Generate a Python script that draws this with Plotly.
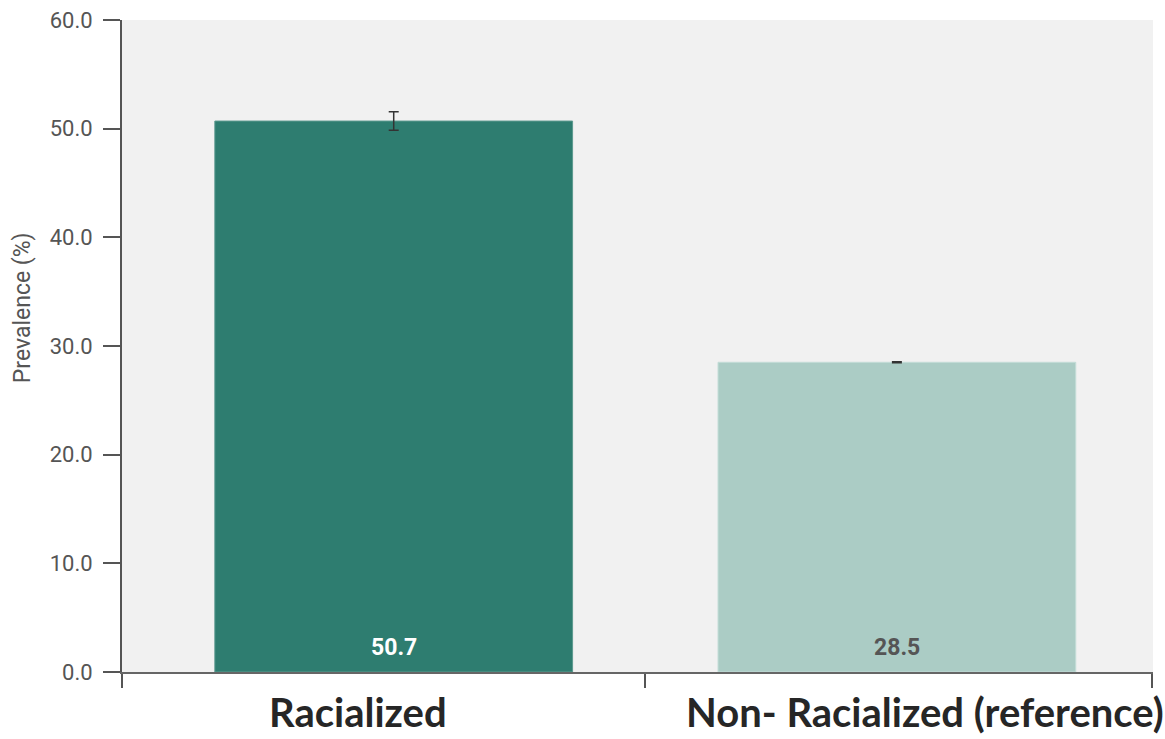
import plotly.graph_objects as go

categories = ["Racialized", "Non- Racialized (reference)"]
values = [50.7, 28.5]
errors = [0.85, 0.05]
value_labels = ["50.7", "28.5"]
bar_colors = ["#2e7d70", "#abccc5"]
label_colors = ["#ffffff", "#555555"]
ytick_vals = [0, 10, 20, 30, 40, 50, 60]

fig = go.Figure()
fig.add_trace(go.Bar(
    x=categories, y=values, width=0.711,
    marker=dict(color=bar_colors, line=dict(color=["#5c9a8f", "#c4ddd8"], width=1)),
    error_y=dict(type="data", array=errors, visible=True, color="#333333",
                 thickness=1.5, width=5),
    hoverinfo="skip",
))

for i, c in enumerate(categories):
    fig.add_annotation(x=c, y=0, yref="y", yanchor="bottom", yshift=9,
                       text="<b>%s</b>" % value_labels[i], showarrow=False,
                       font=dict(family="Roboto, Arial, sans-serif", size=23,
                                 color=label_colors[i]))

xshifts = [-36, 28]
for i, c in enumerate(categories):
    fig.add_annotation(x=c, y=0, yref="paper", yanchor="top", yshift=-14,
                       xshift=xshifts[i],
                       text="<b>%s</b>" % c, showarrow=False,
                       font=dict(family="Lato, Open Sans, sans-serif", size=40,
                                 color="#262626"))

fig.add_annotation(x=0, xref="paper", xanchor="center", xshift=-100, y=0.558,
                   yref="paper", text="Prevalence (%)", textangle=-90, showarrow=False,
                   font=dict(family="Roboto, Arial, sans-serif", size=23, color="#555555"))

fig.update_layout(
    width=1165, height=739,
    margin=dict(l=122, r=12, t=20, b=67, autoexpand=False),
    paper_bgcolor="white", plot_bgcolor="#f1f1f1",
    showlegend=False,
    xaxis=dict(type="category", range=[-0.54, 1.509], showticklabels=False,
               tickmode="array", tickvals=[-0.54, 0.5, 1.507], ticks="outside",
               ticklen=14, tickwidth=2, tickcolor="#555555", automargin=False,
               showline=True, linecolor="#666666", linewidth=2, showgrid=False,
               zeroline=False),
    yaxis=dict(range=[0, 60], tickvals=ytick_vals, tickformat=".1f",
               ticks="outside", ticklen=17, tickwidth=2, tickcolor="#555555",
               showline=True, linecolor="#555555", linewidth=2, showgrid=False,
               zeroline=False, automargin=False, ticklabelstandoff=6,
               tickfont=dict(family="Roboto, Arial, sans-serif", size=22, color="#555555")),
)

fig.write_html("out.html", config={"displayModeBar": False},
               post_script="document.body.style.margin='0';document.body.style.overflow='hidden';")
